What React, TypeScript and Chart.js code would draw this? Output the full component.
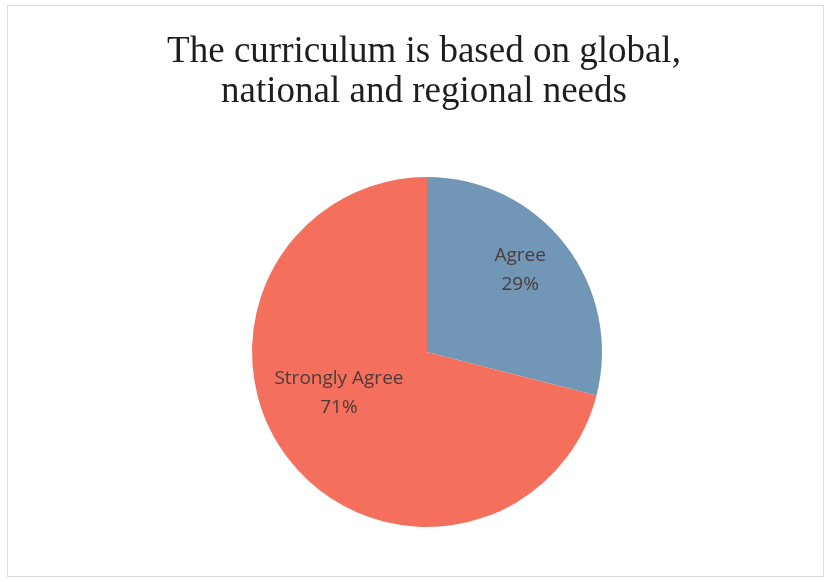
import React, { useEffect, useRef } from "react";
import { Chart, registerables } from "chart.js";

Chart.register(...registerables);

const titleLines = ["The curriculum is based on global,", "national and regional needs"];
const categories = ["Agree", "Strongly Agree"];
const values = [29, 71];
const colors = ["#7196b6", "#f4705d"];
const labelRadiusFactor = [0.71, 0.555];
const labelAngleShift = [-0.063, 0.224];

const framePlugin = {
  id: "frame",
  beforeDraw(chart: any) {
    const ctx = chart.ctx;
    ctx.save();
    ctx.fillStyle = "#ffffff";
    ctx.fillRect(0, 0, chart.width, chart.height);
    ctx.strokeStyle = "#dcdcdc";
    ctx.lineWidth = 1;
    ctx.strokeRect(7.5, 5.5, chart.width - 14, chart.height - 11);
    ctx.restore();
  },
  afterDraw(chart: any) {
    const ctx = chart.ctx;
    ctx.save();
    ctx.fillStyle = "#1e1e1e";
    ctx.font = "37px 'Liberation Serif', 'Times New Roman', serif";
    ctx.textAlign = "center";
    ctx.textBaseline = "alphabetic";
    titleLines.forEach((t, i) => ctx.fillText(t, 424, 62 + i * 40));

    const meta = chart.getDatasetMeta(0);
    const total = values.reduce((a, b) => a + b, 0);
    ctx.font = "19px 'Open Sans', 'Noto Sans', sans-serif";
    ctx.fillStyle = "#4a3c3c";
    ctx.textBaseline = "middle";
    meta.data.forEach((arc: any, i: number) => {
      const { x, y, startAngle, endAngle, outerRadius } = arc.getProps(
        ["x", "y", "startAngle", "endAngle", "outerRadius"],
        true
      );
      const mid = (startAngle + endAngle) / 2 + labelAngleShift[i];
      const r = outerRadius * labelRadiusFactor[i];
      const cx = x + Math.cos(mid) * r;
      const cy = y + Math.sin(mid) * r;
      const pct = Math.round((values[i] / total) * 100) + "%";
      ctx.fillText(categories[i], cx, cy - 14);
      ctx.fillText(pct, cx, cy + 15);
    });
    ctx.restore();
  },
};

export default function App() {
  const ref = useRef<HTMLCanvasElement | null>(null);
  useEffect(() => {
    if (!ref.current) return;
    const chart = new Chart(ref.current, {
      type: "pie",
      data: {
        labels: categories,
        datasets: [
          {
            data: values,
            backgroundColor: colors,
            borderWidth: 0,
          },
        ],
      },
      options: {
        responsive: false,
        animation: false,
        layout: { padding: { left: 24, right: 0, top: 177, bottom: 55 } },
        plugins: {
          legend: { display: false },
          title: { display: false },
          tooltip: { enabled: false },
        },
      },
      plugins: [framePlugin],
    });
    return () => chart.destroy();
  }, []);
  return (
    <div style={{ position: "fixed", left: 0, top: 0, width: 830, height: 582 }}>
      <canvas ref={ref} width={830} height={582} style={{ width: 830, height: 582 }} />
    </div>
  );
}
